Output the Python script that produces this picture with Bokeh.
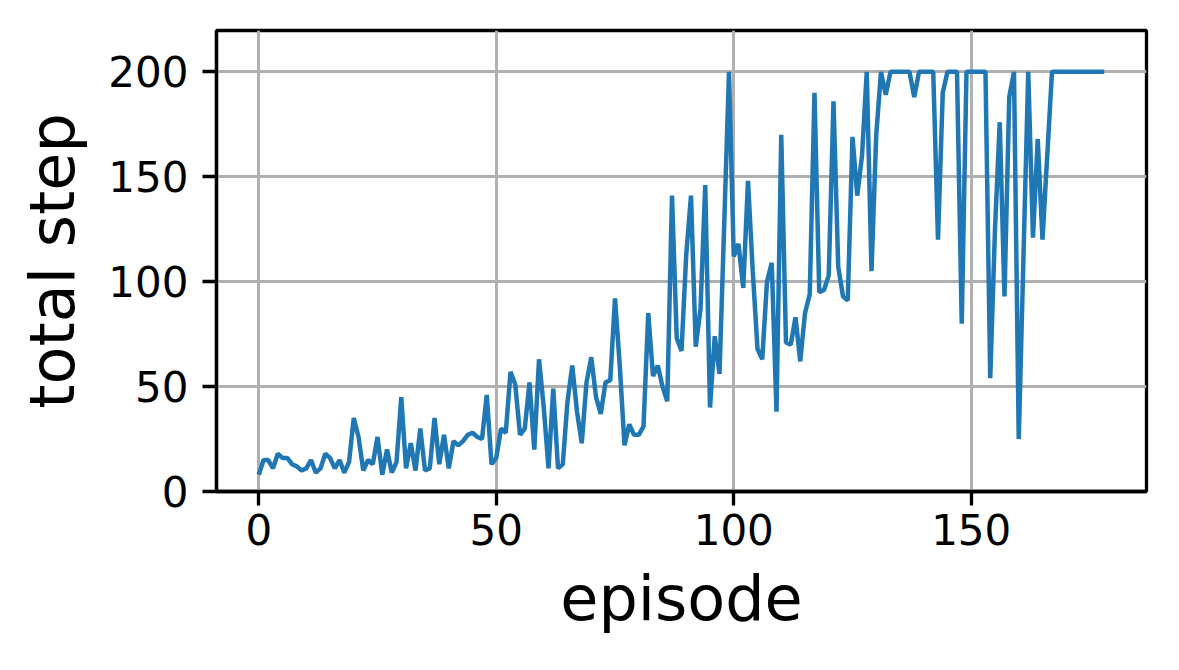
from bokeh.plotting import figure
from bokeh.models import Range1d, FixedTicker
from bokeh.embed import file_html
from bokeh.resources import INLINE

total_step = [
    8, 15, 15, 11, 18, 16, 16, 13, 12, 10,
    11, 15, 9, 11, 18, 16, 11, 15, 9, 14,
    35, 26, 10, 15, 13, 26, 8, 20, 9, 14,
    45, 11, 23, 10, 30, 10, 11, 35, 13, 27,
    11, 24, 22, 24, 27, 28, 26, 25, 46, 13,
    16, 30, 28, 57, 51, 27, 30, 52, 20, 63,
    40, 11, 49, 11, 13, 43, 60, 38, 23, 52,
    64, 45, 37, 52, 53, 92, 60, 22, 32, 27,
    27, 31, 85, 55, 60, 50, 43, 141, 73, 67,
    113, 141, 69, 87, 146, 40, 74, 56, 128, 200,
    112, 118, 97, 148, 105, 68, 63, 100, 109, 38,
    170, 71, 70, 83, 62, 85, 94, 190, 95, 96,
    103, 186, 107, 93, 91, 169, 141, 160, 200, 105,
    170, 200, 189, 200, 200, 200, 200, 200, 188, 200,
    200, 200, 200, 120, 190, 200, 200, 200, 80, 200,
    200, 200, 200, 200, 54, 125, 176, 93, 188, 200,
    25, 112, 200, 121, 168, 120, 160, 200, 200, 200,
    200, 200, 200, 200, 200, 200, 200, 200, 200,
]
episode = list(range(len(total_step)))
x_ticks = [0, 50, 100, 150]
y_ticks = [0, 50, 100, 150, 200]

p = figure(
    output_backend="svg", toolbar_location=None,
    frame_width=930, frame_height=461,
    min_border_left=216, min_border_top=30, min_border_right=17, min_border_bottom=160,
    x_range=Range1d(-8.9, 186.9), y_range=Range1d(0, 219.7),
    background_fill_color="white", border_fill_color="white",
)

p.line(episode, total_step, line_color="#1f77b4", line_width=4.5)

p.outline_line_color = "black"
p.outline_line_width = 3.3
p.outline_line_alpha = 1.0

for ax in (p.xaxis[0], p.yaxis[0]):
    ax.axis_line_color = "black"
    ax.axis_line_width = 3.3
    ax.major_tick_line_color = "black"
    ax.major_tick_line_width = 3.3
    ax.major_tick_out = 14
    ax.major_tick_in = 0
    ax.minor_tick_line_color = None
    ax.major_label_text_font = "DejaVu Sans"
    ax.major_label_text_font_size = "42px"
    ax.major_label_text_color = "black"
    ax.axis_label_text_font = "DejaVu Sans"
    ax.axis_label_text_font_size = "62px"
    ax.axis_label_text_font_style = "normal"
    ax.axis_label_text_color = "black"

p.xaxis[0].ticker = FixedTicker(ticks=x_ticks)
p.yaxis[0].ticker = FixedTicker(ticks=y_ticks)
p.xaxis[0].axis_label = "episode"
p.yaxis[0].axis_label = "total step"
p.xaxis[0].major_label_standoff = 8
p.yaxis[0].major_label_standoff = 14
p.xaxis[0].axis_label_standoff = 14
p.yaxis[0].axis_label_standoff = 16

p.xgrid.ticker = FixedTicker(ticks=x_ticks)
p.ygrid.ticker = FixedTicker(ticks=y_ticks)
for g in (p.xgrid[0], p.ygrid[0]):
    g.grid_line_color = "#b0b0b0"
    g.grid_line_width = 3.0

open("out.html", "w").write(file_html(p, INLINE))
